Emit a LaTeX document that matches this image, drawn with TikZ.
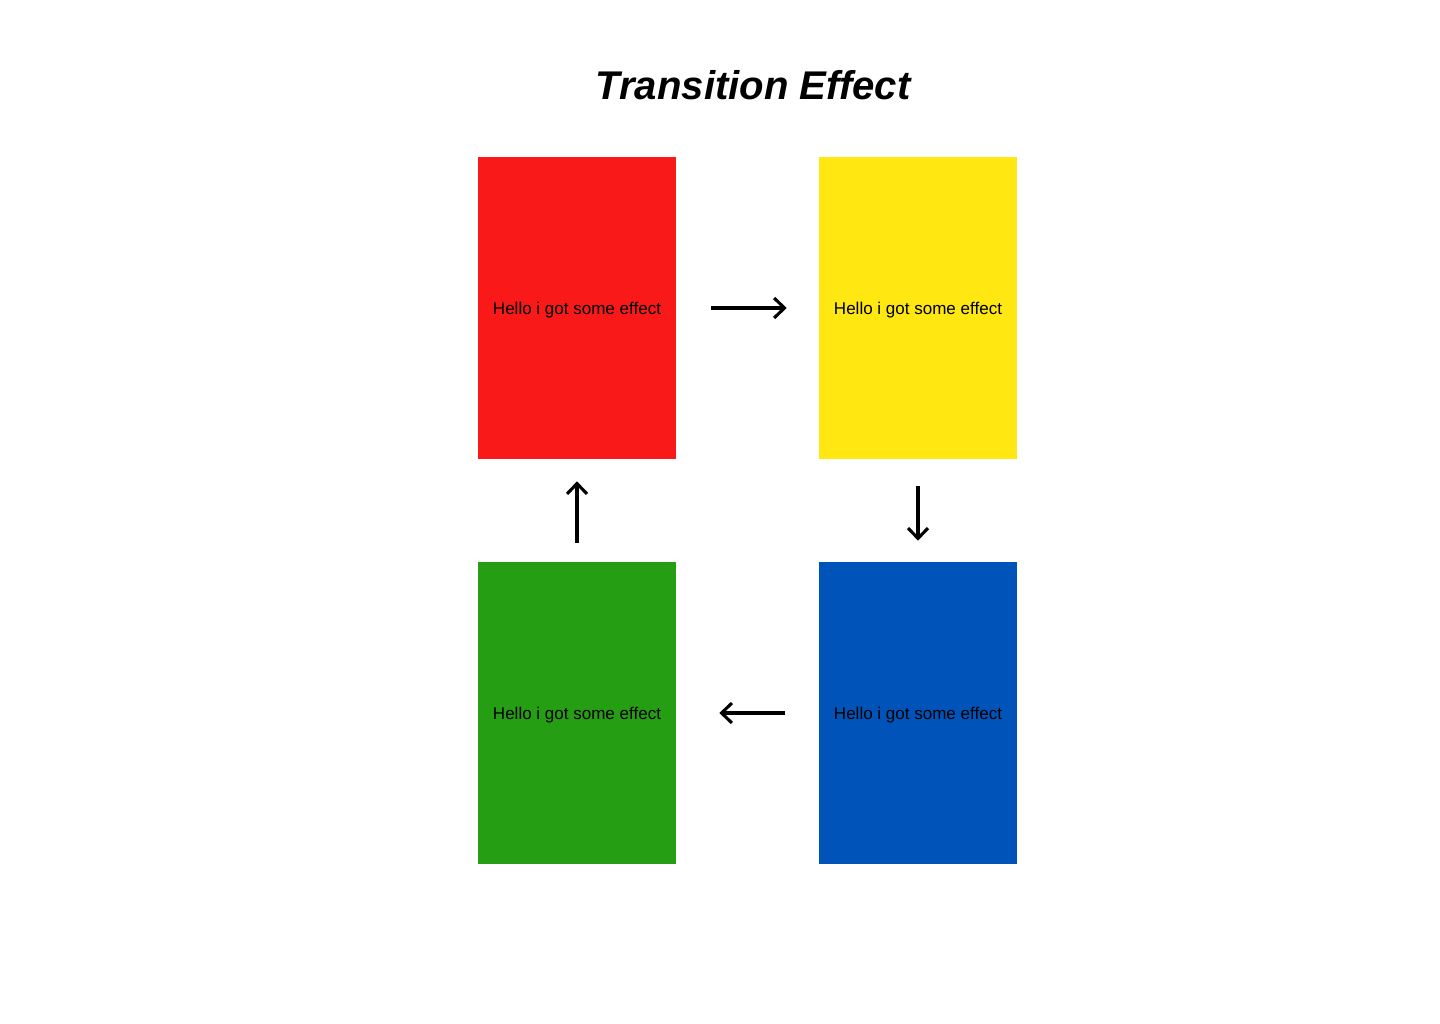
\documentclass[tikz,border=0pt]{standalone}
\usepackage{fontspec}
\setmainfont{Liberation Sans}
\usetikzlibrary{arrows.meta,positioning}
\definecolor{redColor}{HTML}{F91919}
\definecolor{yellowColor}{HTML}{FFE712}
\definecolor{greenColor}{HTML}{259E13}
\definecolor{blueColor}{HTML}{0054B9}
\tikzset{
	card/.style={fill=#1, draw=none, minimum width=4.95cm, minimum height=7.55cm,
		inner sep=0, font=\fontsize{12.1}{14}\selectfont},
	flow/.style={-{Straight Barb[length=2.6mm,width=5mm]}, line width=2.2pt}
}
\begin{document}
\begin{tikzpicture}[x=0.025cm, y=-0.025cm]
	\useasboundingbox[fill=white] (0,0) rectangle (1440,1024);
	\node[font=\fontsize{28.5}{34}\selectfont\bfseries\itshape] (title) at (753,85) {Transition Effect};
	\node[card=redColor] (t1) at (577,308) {};
	\node[card=yellowColor] (t2) at (918,308) {};
	\node[card=blueColor] (t3) at (918,713) {};
	\node[card=greenColor] (t4) at (577,713) {};
	\foreach \c in {t1,t2,t3,t4}
		\node[font=\fontsize{12.1}{14}\selectfont, yshift=-0.06cm] (\c_text) at (\c) {Hello i got some effect};
	% arrows between the cards
	\draw[flow, shorten <=0.875cm, shorten >=0.8cm] (t1) -- (t2);
	\draw[flow, shorten <=0.675cm, shorten >=0.525cm] (t2) -- (t3);
	\draw[flow, shorten <=0.85cm, shorten >=1.075cm] (t3) -- (t4);
	\draw[flow, shorten <=0.475cm, shorten >=0.55cm] (t4) -- (t1);
\end{tikzpicture}
\end{document}
